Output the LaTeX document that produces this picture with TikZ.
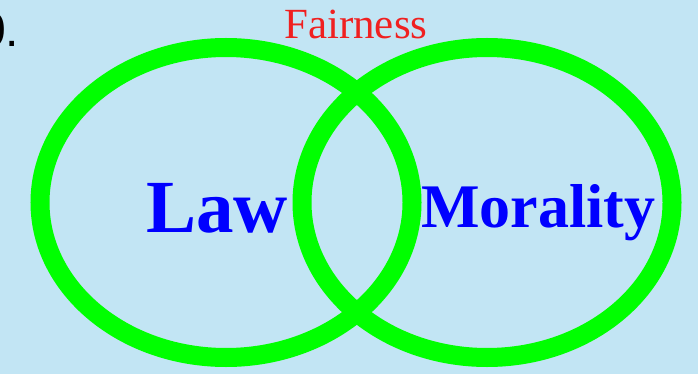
\documentclass[tikz,border=0pt]{standalone}
\usepackage{fontspec}
\setmainfont{Liberation Serif}
\newfontfamily\labelsans{Liberation Sans}
\definecolor{bgblue}{RGB}{194,229,244}
\definecolor{ringgreen}{RGB}{0,255,0}
\definecolor{wordblue}{RGB}{0,0,255}
\definecolor{wordred}{RGB}{240,32,32}
\tikzset{
  ring/.style={draw=ringgreen, line width=19pt},
  bigword/.style={text=wordblue, font=\bfseries, inner sep=0pt, anchor=base west},
}
\begin{document}
\begin{tikzpicture}[x=1pt,y=-1pt]
  \useasboundingbox (0,0) rectangle (698,374);
  \clip (0,0) rectangle (698,374);
  \fill[bgblue] (0,0) rectangle (698,374);
  \draw[ring] (226,202.5) ellipse [x radius=186pt, y radius=155pt];
  \draw[ring] (487,202.5) ellipse [x radius=185pt, y radius=155pt];
  \node[bigword, font=\bfseries\fontsize{75}{75}\selectfont] (law) at (146,232) {Law};
  \node[bigword, font=\bfseries\fontsize{62}{62}\selectfont] (morality) at (421,227) {Morality};
  \node[text=wordred, inner sep=0pt, anchor=base west, font=\fontsize{43}{43}\selectfont] (fairness) at (284,39) {Fairness};
  \node[text=black, inner sep=0pt, anchor=base west, font=\labelsans\fontsize{48}{48}\selectfont] (num) at (-21,47) {0.};
\end{tikzpicture}
\end{document}
